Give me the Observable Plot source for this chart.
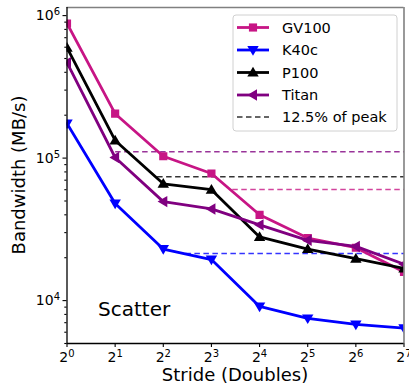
<!DOCTYPE html>
<html>
<head>
<meta charset="utf-8">
<script src="https://cdn.jsdelivr.net/npm/d3@7"></script>
<script src="https://cdn.jsdelivr.net/npm/@observablehq/plot@0.6"></script>
<style>
  html, body { margin: 0; padding: 0; background: #fff; }
  svg { font-family: "DejaVu Sans", sans-serif; }
</style>
</head>
<body>
<div id="chart"></div>
<script>
// ---- data ----
const strides = [1, 2, 4, 8, 16, 32, 64, 128];
const seriesNames = ["GV100", "K40c", "P100", "Titan"];
const seriesColors = ["#c71585", "#0000ff", "#000000", "#800080"];
const gv100 = [880000, 205000, 103000, 78000, 40000, 27500, 23500, 15900];
const k40c  = [175000, 48000, 23000, 19400, 9100, 7500, 6800, 6400];
const p100  = [596000, 133000, 66000, 60000, 28000, 23000, 19700, 16800];
const titan = [467000, 101000, 49500, 44000, 34000, 26500, 24000, 18000];
// 12.5% of peak reference lines (value, start stride)
const peakValues = [60100, 21400, 74100, 111000];
const peakStart  = [10.8, 5.5, 3.66, 2.0];
const xTicks = [1, 2, 4, 8, 16, 32, 64, 128];
const yMajor = [1e4, 1e5, 1e6];
const yMinor = [];
for (const d of [1e3, 1e4, 1e5]) for (let k = 2; k <= 9; k++) if (k * d >= 5000 && k * d <= 1.14e6) yMinor.push(k * d);
const annotation = "Scatter";
const xLabel = "Stride (Doubles)";
const yLabel = "Bandwidth (MB/s)";
const peakLabel = "12.5% of peak";

(function () {
const allValues = [gv100, k40c, p100, titan];
const symbolTypes = ["square", "tdown", "tup", "tleft"];

function makeSymbol(kind) {
  return {
    draw(ctx, size) {
      const s = Math.sqrt(size);
      if (kind === "square") {
        ctx.rect(-s / 2, -s / 2, s, s);
        return;
      }
      const h = s * 0.62, w = s * 0.62;
      let pts;
      if (kind === "tup") pts = [[0, -h], [w, h * 0.7], [-w, h * 0.7]];
      else if (kind === "tdown") pts = [[0, h], [w, -h * 0.7], [-w, -h * 0.7]];
      else pts = [[-h, 0], [h * 0.7, -w], [h * 0.7, w]];
      ctx.moveTo(pts[0][0], pts[0][1]);
      ctx.lineTo(pts[1][0], pts[1][1]);
      ctx.lineTo(pts[2][0], pts[2][1]);
      ctx.closePath();
    }
  };
}

const rows = [];
seriesNames.forEach((name, si) => {
  strides.forEach((s, i) => rows.push({series: name, si, stride: s, value: allValues[si][i]}));
});
const peaks = seriesNames.map((name, si) => ({series: name, si, value: peakValues[si], start: peakStart[si]}));

const marks = [];
peaks.forEach(p => {
  marks.push(Plot.link([p], {
    x1: "start", x2: () => 128, y1: "value", y2: "value",
    stroke: seriesColors[p.si], strokeOpacity: 0.8, strokeWidth: 1.5, strokeDasharray: "5.5,3.5"
  }));
});
seriesNames.forEach((name, si) => {
  const d = rows.filter(r => r.si === si);
  marks.push(Plot.line(d, {x: "stride", y: "value", stroke: seriesColors[si], strokeWidth: 2.8, clip: true}));
  marks.push(Plot.dot(d, {x: "stride", y: "value", fill: seriesColors[si], stroke: "none",
    symbol: makeSymbol(symbolTypes[si]), r: symbolTypes[si] === "square" ? 4.6 : 5.2, clip: true}));
});
marks.push(Plot.ruleY([1.14e6], {stroke: "#808080", strokeWidth: 1.6}));
marks.push(Plot.ruleX([128], {stroke: "#808080", strokeWidth: 1.6}));
marks.push(Plot.ruleY([5000], {stroke: "#000", strokeWidth: 1.3}));
marks.push(Plot.ruleX([1], {stroke: "#000", strokeWidth: 1.3}));
marks.push(Plot.axisX(xTicks, {tickSize: 4, tickPadding: 5, fontSize: 14, label: null,
  tickFormat: d => "2^" + Math.round(Math.log2(d))}));
marks.push(Plot.axisY(yMajor, {tickSize: 4, tickPadding: 3, fontSize: 14, label: null,
  tickFormat: d => "10^" + Math.round(Math.log10(d))}));
marks.push(Plot.axisY(yMinor, {tickSize: 2.2, label: null, tickFormat: () => ""}));

const plot = Plot.plot({
  width: 409,
  height: 389,
  marginLeft: 66.5,
  marginRight: 5.5,
  marginTop: 7,
  marginBottom: 46,
  style: {fontFamily: "DejaVu Sans, sans-serif", color: "#000", background: "#fff"},
  x: {type: "log", base: 2, domain: [1, 128]},
  y: {type: "log", domain: [5000, 1.14e6]},
  marks
});
document.getElementById("chart").appendChild(plot);

const svg = d3.select(plot);
svg.style("overflow", "visible");

svg.selectAll("g[aria-label='x-axis tick label'] text, g[aria-label='y-axis tick label'] text").each(function() {
  const t = d3.select(this);
  const txt = t.text();
  if (!txt.includes("^")) return;
  const [base, exp] = txt.split("^");
  t.text("");
  t.append("tspan").text(base);
  t.append("tspan").attr("font-size", 10).attr("dy", "-0.5em").text(exp);
});
svg.selectAll("g[aria-label='x-axis tick'] path, g[aria-label='y-axis tick'] path").attr("stroke-width", 1.1);

const xs = plot.scale("x"), ys = plot.scale("y");
const pLeft = xs.range[0], pRight = xs.range[1], pBottom = ys.range[0], pTop = ys.range[1];

svg.append("text").attr("x", (pLeft + pRight) / 2).attr("y", 381).attr("text-anchor", "middle")
  .attr("font-size", 18).text(xLabel);
svg.append("text").attr("transform", `translate(25,${(pTop + pBottom) / 2}) rotate(-90)`)
  .attr("text-anchor", "middle").attr("font-size", 18).text(yLabel);

svg.append("text").attr("x", pLeft + 31.5).attr("y", pBottom - 27.5).attr("text-anchor", "start")
  .attr("font-size", 20).text(annotation);

const lg = svg.append("g").attr("text-anchor", "start");
lg.append("rect").attr("x", 233).attr("y", 15).attr("width", 164).attr("height", 116).attr("rx", 3)
  .attr("fill", "#fff").attr("fill-opacity", 0.8).attr("stroke", "#d0d0d0");
const rowY = [27.5, 50, 72.5, 95, 117];
seriesNames.forEach((name, si) => {
  const y = rowY[si];
  lg.append("line").attr("x1", 237).attr("x2", 269).attr("y1", y).attr("y2", y)
    .attr("stroke", seriesColors[si]).attr("stroke-width", 2.8);
  const sym = makeSymbol(symbolTypes[si]);
  const p = d3.path();
  sym.draw(p, symbolTypes[si] === "square" ? Math.PI * 4.6 * 4.6 : Math.PI * 5.2 * 5.2);
  lg.append("path").attr("d", p.toString()).attr("transform", `translate(253,${y})`).attr("fill", seriesColors[si]);
  lg.append("text").attr("x", 282).attr("y", y).attr("dy", "0.36em").attr("text-anchor", "start")
    .attr("font-size", 14.5).text(name);
});
lg.append("line").attr("x1", 237).attr("x2", 269).attr("y1", rowY[4]).attr("y2", rowY[4])
  .attr("stroke", "#000").attr("stroke-opacity", 0.8).attr("stroke-width", 1.5).attr("stroke-dasharray", "5.5,3.5");
lg.append("text").attr("x", 282).attr("y", rowY[4]).attr("dy", "0.36em").attr("text-anchor", "start")
  .attr("font-size", 14.5).text(peakLabel);
})();
</script>
</body>
</html>
